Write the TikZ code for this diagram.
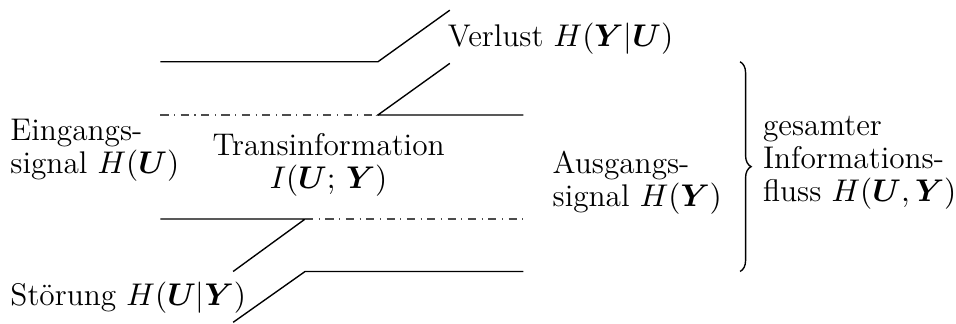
\documentclass[tikz,border=0pt]{standalone}
\usepackage{fix-cm}
\usepackage{fontspec}
\usepackage{amsmath}
\usepackage{bm}
\usetikzlibrary{decorations.pathreplacing}

\begin{document}
\begin{tikzpicture}[
    every node/.style={font=\fontsize{11.4pt}{12pt}\selectfont},
    chanline/.style={line width=0.5pt},
    nonline/.style={dash dot, line width=0.5pt, black!70},
    textbox/.style={anchor=west, align=left},
    bracestyle/.style={decorate, decoration={brace, amplitude=4pt}, line width=0.5pt},
]
\useasboundingbox (0,0) rectangle (12.22,-4.13);

% Kanal-Koordinaten
\coordinate (A1) at (2.05, -0.79);
\coordinate (A2) at (4.83, -0.79);
\coordinate (A3) at (5.75, -0.13);
\coordinate (B1) at (2.05, -1.47);
\coordinate (B2) at (4.83, -1.47);
\coordinate (B3) at (5.75, -0.81);
\coordinate (B4) at (6.69, -1.47);
\coordinate (C1) at (2.05, -2.80);
\coordinate (C2) at (3.90, -2.80);
\coordinate (C3) at (2.98, -3.47);
\coordinate (C4) at (6.69, -2.80);
\coordinate (D1) at (6.69, -3.47);
\coordinate (D2) at (3.90, -3.47);
\coordinate (D3) at (2.98, -4.12);

% obere Begrenzung mit Verlust
\draw[chanline] (A1) -- (A2) -- (A3);
\draw[nonline] (B1) -- (B2);
\draw[chanline] (B3) -- (B2) -- (B4);

% untere Begrenzung mit Stoerung
\draw[chanline] (C1) -- (C2) -- (C3);
\draw[nonline] (C2) -- (C4);
\draw[chanline] (D1) -- (D2) -- (D3);

% Beschriftungen
\node[textbox] (verlust) at (5.60, -0.49) {Verlust $H(\bm{Y}|\bm{U})$};
\node[textbox] (eingang) at (0.01, -1.92) {Eingangs-\\signal $H(\bm{U})$};
\node[align=center] (trans) at (4.20, -2.11) {Transinformation\\$I(\bm{U};\,\bm{Y})$};
\node[textbox] (ausgang) at (6.94, -2.33) {Ausgangs-\\signal $H(\bm{Y})$};
\node[textbox] (stoerung) at (0.01, -3.80) {Störung $H(\bm{U}|\bm{Y})$};

% gesamter Fluss
\coordinate (E1) at (9.46, -0.79);
\coordinate (E2) at (9.46, -3.47);
\draw[bracestyle] (E1) -- (E2);
\node[textbox] (gesamt) at (9.63, -2.08) {gesamter\\Informations-\\fluss $H(\bm{U},\bm{Y})$};
\end{tikzpicture}
\end{document}
